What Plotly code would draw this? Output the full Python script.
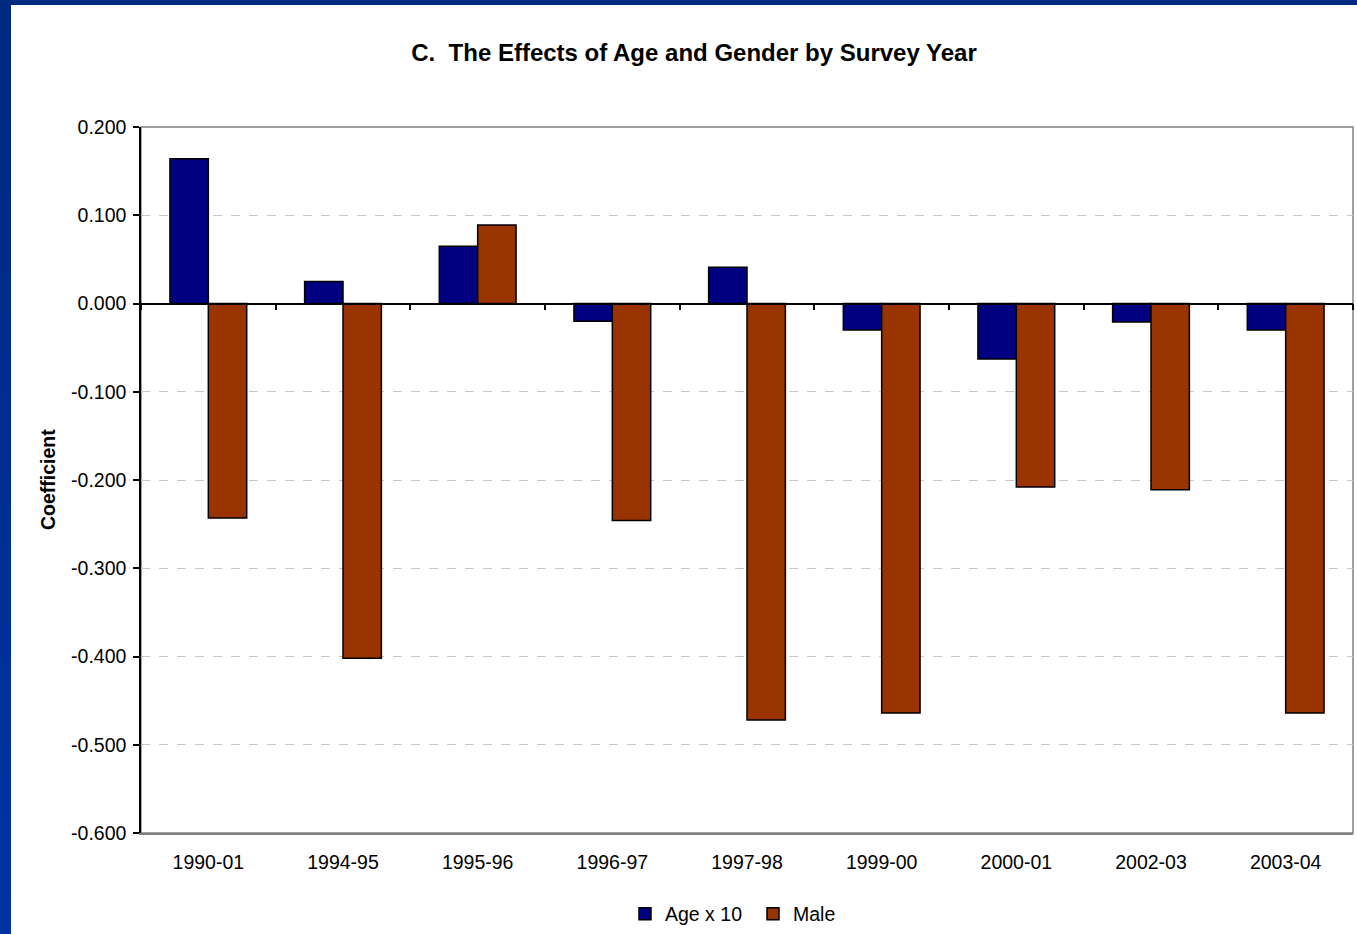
import plotly.graph_objects as go

# Survey years and estimated coefficients
years = ["1990-01", "1994-95", "1995-96", "1996-97", "1997-98",
         "1999-00", "2000-01", "2002-03", "2003-04"]
age_x10 = [0.164, 0.025, 0.065, -0.020, 0.041, -0.030, -0.063, -0.021, -0.030]
male = [-0.243, -0.402, 0.089, -0.246, -0.472, -0.464, -0.208, -0.211, -0.464]
y_ticks = [0.2, 0.1, 0.0, -0.1, -0.2, -0.3, -0.4, -0.5, -0.6]
y_ticktext = ["%.3f" % v for v in y_ticks]

W, H = 1357, 934
L, R, T, B = 141, 4, 127, 101
PW, PH = W - L - R, H - T - B


def px_x(v):
    return (v - L) / PW


def px_y(v):
    return 1 - (v - T) / PH


FONT = "Arial, Liberation Sans, sans-serif"
FS = 19.5

fig = go.Figure()
fig.add_trace(go.Bar(
    x=years, y=age_x10, name="Age x 10",
    marker=dict(color="#000080", line=dict(color="black", width=1.5)),
))
fig.add_trace(go.Bar(
    x=years, y=male, name="Male",
    marker=dict(color="#993300", line=dict(color="black", width=1.5)),
))
# invisible helper trace that carries the zero-line category axis
fig.add_trace(go.Scatter(
    x=years, y=age_x10, xaxis="x2", mode="markers",
    marker=dict(opacity=0), showlegend=False, hoverinfo="skip",
))

shapes = []
# window frame: dark blue strip along the top, gradient strip down the left
shapes.append(dict(type="rect", xref="paper", yref="paper",
                   x0=px_x(0), x1=px_x(W), y0=px_y(5), y1=px_y(0),
                   fillcolor="#002a80", line=dict(width=0), layer="above"))
n = 24
for i in range(n):
    t = i / (n - 1)
    r, g, b = 0, int(0x2a + (0x34 - 0x2a) * t), int(0x80 + (0xa2 - 0x80) * t)
    y0 = i * H / n
    shapes.append(dict(type="rect", xref="paper", yref="paper",
                       x0=px_x(0), x1=px_x(11), y0=px_y(y0 + H / n + 1), y1=px_y(y0),
                       fillcolor=f"rgb({r},{g},{b})", line=dict(width=0), layer="above"))
# grey plot frame
shapes.append(dict(type="rect", xref="paper", yref="paper", x0=0, x1=1, y0=0, y1=1,
                   line=dict(color="#808080", width=1.5), layer="below"))

fig.update_layout(
    width=W, height=H,
    margin=dict(l=L, r=R, t=T, b=B, autoexpand=False),
    paper_bgcolor="white", plot_bgcolor="white",
    font=dict(family=FONT, size=FS, color="black"),
    barmode="group", bargap=0.43, bargroupgap=0,
    title=dict(text="<b>C.  The Effects of Age and Gender by Survey Year</b>",
               x=694 / W, xref="container", xanchor="center",
               y=1 - 53 / H, yref="container", yanchor="middle",
               font=dict(family=FONT, size=24, color="black")),
    xaxis=dict(type="category", showline=True, linecolor="#808080", linewidth=1.5,
               ticks="", showgrid=False, tickfont=dict(size=FS), ticklabelstandoff=11),
    xaxis2=dict(type="category", overlaying="x", anchor="free", position=0.75,
                matches="x", showline=True, linecolor="black", linewidth=1.5,
                ticks="outside", tickson="boundaries", ticklen=6, tickwidth=1.5,
                tickcolor="black", showticklabels=False, showgrid=False),
    yaxis=dict(range=[-0.6, 0.2], tickvals=y_ticks, ticktext=y_ticktext,
               showline=True, linecolor="black", linewidth=1.5,
               ticks="outside", ticklen=6, tickcolor="black", tickwidth=1.5,
               showgrid=True, gridcolor="#c8c8c8", griddash="dash", gridwidth=1,
               zeroline=False, tickfont=dict(size=FS), ticklabelstandoff=3),
    legend=dict(orientation="h", x=px_x(753), xanchor="center",
                y=px_y(914), yanchor="middle", font=dict(size=FS),
                itemwidth=30, tracegroupgap=0, entrywidth=83),
    shapes=shapes,
    annotations=[dict(text="<b>Coefficient</b>", textangle=-90,
                      xref="paper", yref="paper", x=px_x(48), y=0.5,
                      xanchor="center", yanchor="middle", showarrow=False,
                      font=dict(family=FONT, size=19.5, color="black"))],
)

fig.write_html("out.html")
